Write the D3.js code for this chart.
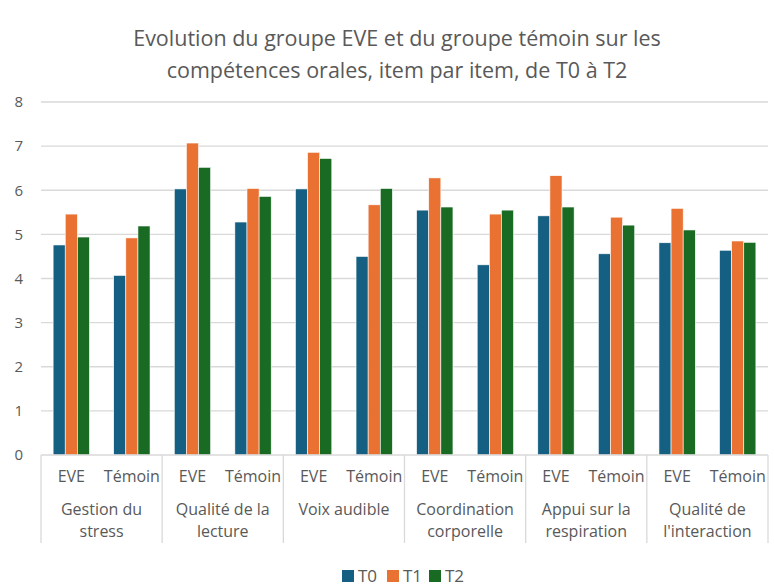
<!DOCTYPE html>
<html>
<head>
<meta charset="utf-8">
<script src="https://cdn.jsdelivr.net/npm/d3@7"></script>
<style>
  body { margin: 0; background: #fff; }
  svg { display: block; font-family: "Open Sans", "Noto Sans", sans-serif; }
</style>
</head>
<body>
<div id="chart"></div>
<script>
const skills = ["Gestion du\nstress", "Qualité de la\nlecture", "Voix audible",
  "Coordination\ncorporelle", "Appui sur la\nrespiration", "Qualité de\nl'interaction"];
const groups = ["EVE", "Témoin"];
const series = ["T0", "T1", "T2"];
const colors = ["#156082", "#E97132", "#196B24"];

// values per skill, [EVE, Témoin], each [T0, T1, T2]
const t0 = [4.76, 4.07, 6.03, 5.28, 6.03, 4.50, 5.55, 4.31, 5.42, 4.56, 4.81, 4.64];
const t1 = [5.46, 4.92, 7.07, 6.04, 6.86, 5.67, 6.28, 5.46, 6.33, 5.39, 5.59, 4.85];
const t2 = [4.94, 5.19, 6.52, 5.86, 6.72, 6.04, 5.62, 5.55, 5.62, 5.21, 5.10, 4.82];
const yTicks = [0, 1, 2, 3, 4, 5, 6, 7, 8];

const width = 774, height = 588;
const margin = { top: 102, right: 6, bottom: 133, left: 41 };

const svg = d3.select("#chart").append("svg")
  .attr("width", width).attr("height", height);

// title
svg.append("text")
  .attr("x", 397).attr("y", 0)
  .attr("text-anchor", "middle")
  .attr("fill", "#595959")
  .style("font-size", "21.5px")
  .selectAll("tspan")
  .data(["Evolution du groupe EVE et du groupe témoin sur les",
         "compétences orales, item par item, de T0 à T2"])
  .join("tspan")
  .attr("x", 397)
  .attr("y", (d, i) => 46 + i * 32)
  .text(d => d);

const x0 = d3.scaleBand()
  .domain(skills)
  .range([margin.left, width - margin.right]);
const x1 = d3.scaleBand()
  .domain(groups)
  .range([0, x0.bandwidth()]);
const x2 = d3.scaleBand()
  .domain(series)
  .range([0, x1.bandwidth()])
  .paddingInner(0)
  .paddingOuter(1.0);

const y = d3.scaleLinear()
  .domain([0, 8])
  .range([height - margin.bottom, margin.top]);

// gridlines
svg.append("g")
  .selectAll("line")
  .data(yTicks.slice(1))
  .join("line")
  .attr("x1", margin.left).attr("x2", width - margin.right)
  .attr("y1", d => y(d)).attr("y2", d => y(d))
  .attr("stroke", "#d9d9d9").attr("stroke-width", 1.3);

// y labels
svg.append("g")
  .selectAll("text")
  .data(yTicks)
  .join("text")
  .attr("x", 23).attr("y", d => y(d))
  .attr("dy", "0.35em")
  .attr("text-anchor", "end")
  .attr("fill", "#595959")
  .style("font-size", "15px")
  .text(d => d);

// data rows
const rows = [];
skills.forEach((s, i) => {
  groups.forEach((g, j) => {
    const k = i * 2 + j;
    [t0[k], t1[k], t2[k]].forEach((v, m) => {
      rows.push({ skill: s, group: g, serie: series[m], value: v, color: colors[m] });
    });
  });
});

svg.append("g")
  .selectAll("rect")
  .data(rows)
  .join("rect")
  .attr("x", d => x0(d.skill) + x1(d.group) + x2(d.serie))
  .attr("width", x2.bandwidth())
  .attr("y", d => y(d.value))
  .attr("height", d => y(0) - y(d.value))
  .attr("fill", d => d.color)
  .attr("stroke", "#fff")
  .attr("stroke-width", 0.6);

// category axis
const axis = svg.append("g").attr("stroke", "#d9d9d9").attr("stroke-width", 1.3);
axis.append("line")
  .attr("x1", margin.left).attr("x2", width - margin.right)
  .attr("y1", y(0)).attr("y2", y(0));
axis.selectAll(".sep")
  .data(skills.map(s => x0(s)).concat([width - margin.right]))
  .join("line")
  .attr("class", "sep")
  .attr("x1", d => d).attr("x2", d => d)
  .attr("y1", y(0)).attr("y2", y(0) + 88);

// subgroup labels
const sub = [];
skills.forEach(s => groups.forEach(g => sub.push({ skill: s, group: g })));
svg.append("g")
  .selectAll("text")
  .data(sub)
  .join("text")
  .attr("x", d => x0(d.skill) + x1(d.group) + x1.bandwidth() / 2)
  .attr("y", y(0) + 27)
  .attr("text-anchor", "middle")
  .attr("fill", "#595959")
  .style("font-size", "16px")
  .text(d => d.group);

// group labels
svg.append("g")
  .selectAll("text")
  .data(skills)
  .join("text")
  .attr("text-anchor", "middle")
  .attr("fill", "#595959")
  .style("font-size", "16px")
  .each(function(d) {
    d3.select(this).selectAll("tspan")
      .data(d.split("\n"))
      .join("tspan")
      .attr("x", x0(d) + x0.bandwidth() / 2)
      .attr("y", (t, i) => y(0) + 60 + i * 22)
      .text(t => t);
  });

// legend
const legX = [342, 387, 429];
const leg = svg.append("g")
  .selectAll("g")
  .data(series)
  .join("g")
  .attr("transform", (d, i) => `translate(${legX[i]},576)`);
leg.append("rect")
  .attr("x", 0).attr("y", -6)
  .attr("width", 12).attr("height", 12)
  .attr("fill", (d, i) => colors[i]);
leg.append("text")
  .attr("x", 16).attr("dy", "0.38em")
  .attr("fill", "#595959")
  .style("font-size", "17px")
  .text(d => d);
</script>
</body>
</html>
